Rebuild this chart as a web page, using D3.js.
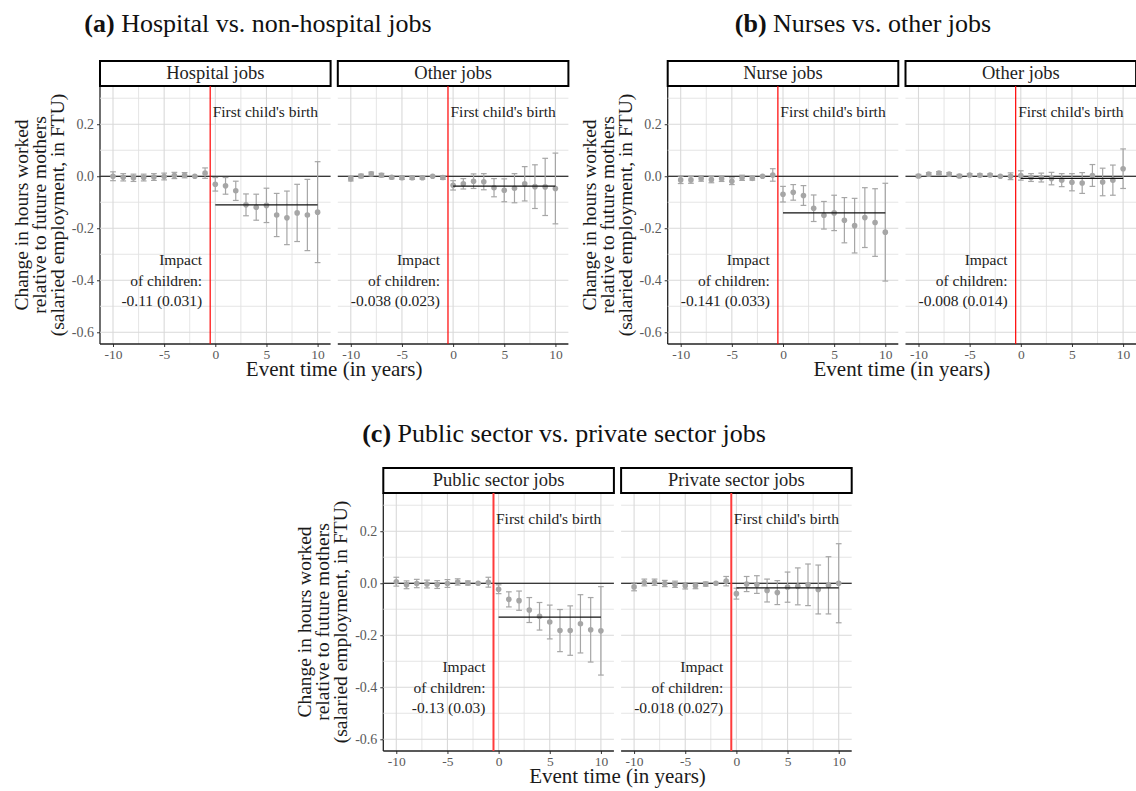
<!DOCTYPE html>
<html>
<head>
<meta charset="utf-8">
<script src="https://cdn.jsdelivr.net/npm/d3@7"></script>
<style>
  html, body { margin: 0; padding: 0; background: #fff; }
  svg { display: block; }
  svg text { font-family: "Liberation Serif", "DejaVu Serif", serif; }
</style>
</head>
<body>
<svg id="chart" width="1136" height="791"></svg>
<script>
// Event time relative to first birth (years)
const eventTime = [-10, -9, -8, -7, -6, -5, -4, -3, -2, -1, 0, 1, 2, 3, 4, 5, 6, 7, 8, 9, 10];

// Point estimates and 95% CI half-widths, event time -10 .. 10 (t = -2 is the reference year)
const hospitalEst = [0.000, -0.004, -0.006, -0.005, -0.003, -0.001, 0.003, 0.004, 0.000, 0.012, -0.031, -0.037, -0.056, -0.110, -0.119, -0.112, -0.149, -0.160, -0.141, -0.149, -0.138];
const hospitalCI  = [0.017, 0.014, 0.014, 0.013, 0.013, 0.013, 0.012, 0.010, 0.000, 0.020, 0.026, 0.032, 0.037, 0.042, 0.050, 0.066, 0.083, 0.103, 0.110, 0.137, 0.194];

const nonHospitalEst = [-0.010, 0.001, 0.009, 0.004, -0.004, -0.006, -0.006, -0.006, 0.000, -0.005, -0.035, -0.029, -0.019, -0.021, -0.044, -0.054, -0.046, -0.029, -0.040, -0.041, -0.047];
const nonHospitalCI  = [0.008, 0.007, 0.007, 0.007, 0.006, 0.006, 0.006, 0.005, 0.000, 0.007, 0.018, 0.020, 0.028, 0.031, 0.035, 0.044, 0.056, 0.066, 0.084, 0.110, 0.136];

const nurseEst = [-0.014, -0.014, -0.009, -0.013, -0.010, -0.019, -0.006, -0.008, 0.000, 0.005, -0.069, -0.062, -0.074, -0.123, -0.150, -0.141, -0.169, -0.190, -0.159, -0.178, -0.215];
const nurseCI  = [0.014, 0.013, 0.010, 0.012, 0.010, 0.013, 0.010, 0.007, 0.000, 0.024, 0.030, 0.030, 0.038, 0.051, 0.053, 0.068, 0.087, 0.105, 0.115, 0.130, 0.188];

const nonNurseEst = [0.001, 0.008, 0.012, 0.008, 0.001, 0.005, 0.004, 0.005, 0.000, 0.000, 0.003, -0.005, -0.005, -0.009, -0.015, -0.023, -0.026, 0.003, -0.022, -0.015, 0.029];
const nonNurseCI  = [0.006, 0.006, 0.006, 0.006, 0.006, 0.005, 0.005, 0.004, 0.000, 0.013, 0.018, 0.015, 0.017, 0.024, 0.025, 0.033, 0.040, 0.042, 0.053, 0.058, 0.076];

const publicEst = [0.006, -0.006, -0.001, -0.003, -0.005, -0.001, 0.005, 0.001, 0.000, 0.004, -0.023, -0.062, -0.067, -0.103, -0.127, -0.149, -0.182, -0.182, -0.156, -0.179, -0.183];
const publicCI  = [0.017, 0.015, 0.016, 0.015, 0.015, 0.015, 0.012, 0.008, 0.000, 0.019, 0.017, 0.029, 0.037, 0.048, 0.053, 0.065, 0.081, 0.095, 0.112, 0.124, 0.170];

const privateEst = [-0.014, 0.003, 0.004, -0.001, -0.004, -0.010, -0.010, -0.003, 0.000, 0.008, -0.040, -0.003, -0.005, -0.028, -0.036, -0.015, -0.012, -0.006, -0.024, -0.008, 0.000];
const privateCI  = [0.015, 0.013, 0.012, 0.012, 0.012, 0.012, 0.011, 0.008, 0.000, 0.018, 0.021, 0.029, 0.034, 0.044, 0.046, 0.058, 0.071, 0.080, 0.094, 0.110, 0.152];

// Average post-birth impact and its standard error, per facet
const impactValue = { hospital: -0.11, nonHospital: -0.038, nurse: -0.141, nonNurse: -0.008, public: -0.13, private: -0.018 };
const impactSE    = { hospital: "0.031", nonHospital: "0.023", nurse: "0.033", nonNurse: "0.014", public: "0.03", private: "0.027" };

// Facet and figure titles
const subfigureTitles = [
  { tag: "(a)", text: " Hospital vs. non-hospital jobs" },
  { tag: "(b)", text: " Nurses vs. other jobs" },
  { tag: "(c)", text: " Public sector vs. private sector jobs" }
];
const facetLabels = [
  ["Hospital jobs", "Other jobs"],
  ["Nurse jobs", "Other jobs"],
  ["Public sector jobs", "Private sector jobs"]
];
const facetKeys = [
  ["hospital", "nonHospital"],
  ["nurse", "nonNurse"],
  ["public", "private"]
];
const seriesEst = { hospital: hospitalEst, nonHospital: nonHospitalEst, nurse: nurseEst, nonNurse: nonNurseEst, public: publicEst, private: privateEst };
const seriesCI  = { hospital: hospitalCI, nonHospital: nonHospitalCI, nurse: nurseCI, nonNurse: nonNurseCI, public: publicCI, private: privateCI };

const xTicks = [-10, -5, 0, 5, 10];
const xMinor = [-7.5, -2.5, 2.5, 7.5];
const yTicks = [0.2, 0.0, -0.2, -0.4, -0.6];
const yMinor = [0.3, 0.1, -0.1, -0.3, -0.5];
const yTitleLines = ["Change in hours worked", "relative to future mothers", "(salaried employment, in FTU)"];
const xTitle = "Event time (in years)";
const birthLabel = "First child's birth";
const birthLine = -0.5;

// ---- layout ----
const svg = d3.select("#chart");
const PW = 230.6, PH = 258, GAP = 7.2, STRIP = 25;
const figures = [
  { ox: 100, oy: 86, titleX: 258, titleY: 32 },
  { ox: 667.7, oy: 86, titleX: 863, titleY: 32 },
  { ox: 383.3, oy: 493, titleX: 564, titleY: 442 }
];

const x = d3.scaleLinear().domain([-11.27, 11.27]).range([0, PW]);
const y = d3.scaleLinear().domain([-0.645, 0.347]).range([PH, 0]);

const GREY = "#a6a6a6";
const TICK_GREY = "#5a5a5a";
// plain hyphen-minus for negative tick labels
const fmtY = d => d3.format(".1f")(d).replace("\u2212", "-");
const fmtX = d => String(d);

figures.forEach((f, fi) => {
  const fig = svg.append("g").attr("transform", `translate(${f.ox},${f.oy})`);

  // subfigure caption
  const t = svg.append("text")
    .attr("x", f.titleX).attr("y", f.titleY).attr("text-anchor", "middle")
    .attr("font-size", 26).attr("fill", "#111");
  t.append("tspan").attr("font-weight", "bold").text(subfigureTitles[fi].tag);
  t.append("tspan").text(subfigureTitles[fi].text);

  // y axis title (three lines)
  yTitleLines.forEach((line, li) => {
    fig.append("text")
      .attr("transform", `translate(${-79 + li * 18},${PH / 2}) rotate(-90)`)
      .attr("text-anchor", "middle").attr("dy", "0.35em")
      .attr("font-size", 19.5).attr("fill", "#1a1a1a")
      .text(line);
  });

  // y axis (left facet only)
  const yAxis = d3.axisLeft(y).tickValues(yTicks).tickFormat(fmtY).tickSize(3).tickPadding(3);
  const ya = fig.append("g").call(yAxis).attr("font-family", null).attr("font-size", null);
  ya.select(".domain").remove();
  ya.selectAll(".tick line").attr("stroke", "#333");
  ya.selectAll(".tick text").attr("font-size", 14).attr("fill", TICK_GREY);
  fig.append("line").attr("x1", 0).attr("x2", 0).attr("y1", 0).attr("y2", PH)
    .attr("stroke", "#222").attr("stroke-width", 1.3);

  // x axis title
  fig.append("text")
    .attr("x", (2 * PW + GAP) / 2).attr("y", PH + 32)
    .attr("text-anchor", "middle").attr("font-size", 21).attr("fill", "#1a1a1a")
    .text(xTitle);

  facetKeys[fi].forEach((key, pi) => {
    const p = fig.append("g").attr("transform", `translate(${pi * (PW + GAP)},0)`);

    // grid
    const grid = p.append("g");
    grid.selectAll(".gxm").data(xMinor).join("line")
      .attr("x1", d => x(d)).attr("x2", d => x(d)).attr("y1", 0).attr("y2", PH)
      .attr("stroke", "#e2e2e2").attr("stroke-width", 0.9);
    grid.selectAll(".gym").data(yMinor).join("line")
      .attr("y1", d => y(d)).attr("y2", d => y(d)).attr("x1", 0).attr("x2", PW)
      .attr("stroke", "#e2e2e2").attr("stroke-width", 0.9);
    grid.selectAll(".gx").data(xTicks).join("line")
      .attr("x1", d => x(d)).attr("x2", d => x(d)).attr("y1", 0).attr("y2", PH)
      .attr("stroke", "#d9d9d9").attr("stroke-width", 1.1);
    grid.selectAll(".gy").data(yTicks).join("line")
      .attr("y1", d => y(d)).attr("y2", d => y(d)).attr("x1", 0).attr("x2", PW)
      .attr("stroke", "#d9d9d9").attr("stroke-width", 1.1);

    // strip
    p.append("rect").attr("x", 0).attr("y", -STRIP).attr("width", PW).attr("height", STRIP)
      .attr("fill", "#fff").attr("stroke", "#000").attr("stroke-width", 2);
    p.append("text").attr("x", PW / 2).attr("y", -7)
      .attr("text-anchor", "middle").attr("font-size", 18.5).attr("fill", "#222")
      .text(facetLabels[fi][pi]);

    // x axis
    const xAxis = d3.axisBottom(x).tickValues(xTicks).tickFormat(fmtX).tickSize(3).tickPadding(2);
    const xa = p.append("g").attr("transform", `translate(0,${PH})`).call(xAxis)
      .attr("font-family", null).attr("font-size", null);
    xa.select(".domain").remove();
    xa.selectAll(".tick line").attr("stroke", "#333");
    xa.selectAll(".tick text").attr("font-size", 13.5).attr("fill", TICK_GREY);
    p.append("line").attr("x1", 0).attr("x2", PW).attr("y1", PH).attr("y2", PH)
      .attr("stroke", "#222").attr("stroke-width", 1.3);

    // zero reference line
    p.append("line").attr("x1", 0).attr("x2", PW).attr("y1", y(0)).attr("y2", y(0))
      .attr("stroke", "#000").attr("stroke-width", 1.1);

    // birth marker
    p.append("line").attr("x1", x(birthLine)).attr("x2", x(birthLine)).attr("y1", 0).attr("y2", PH)
      .attr("stroke", fi === 2 ? "#ff3b3b" : "#ff0000").attr("stroke-width", fi === 2 ? 2 : 1.2);
    p.append("text").attr("x", x(birthLine) + 2.5).attr("y", y(0.25)).attr("dy", "0.35em")
      .attr("font-size", 15.5).attr("fill", "#222").text(birthLabel);

    // estimates
    const data = eventTime.map((t, i) => ({ t, est: seriesEst[key][i], ci: seriesCI[key][i] }));
    const bars = p.append("g").attr("stroke", GREY).attr("stroke-width", 1.2).attr("fill", "none");
    const withCI = data.filter(d => d.ci > 0);
    bars.selectAll(".v").data(withCI).join("line")
      .attr("x1", d => x(d.t)).attr("x2", d => x(d.t))
      .attr("y1", d => y(d.est - d.ci)).attr("y2", d => y(d.est + d.ci));
    bars.selectAll(".cap-hi").data(withCI).join("line")
      .attr("x1", d => x(d.t - 0.28)).attr("x2", d => x(d.t + 0.28))
      .attr("y1", d => y(d.est + d.ci)).attr("y2", d => y(d.est + d.ci));
    bars.selectAll(".cap-lo").data(withCI).join("line")
      .attr("x1", d => x(d.t - 0.28)).attr("x2", d => x(d.t + 0.28))
      .attr("y1", d => y(d.est - d.ci)).attr("y2", d => y(d.est - d.ci));
    p.append("g").selectAll("circle").data(data).join("circle")
      .attr("cx", d => x(d.t)).attr("cy", d => y(d.est)).attr("r", 2.8)
      .attr("fill", GREY);

    // average post-birth impact
    p.append("line").attr("x1", x(0)).attr("x2", x(10))
      .attr("y1", y(impactValue[key])).attr("y2", y(impactValue[key]))
      .attr("stroke", "#111").attr("stroke-width", 1.3);
    const lines = ["Impact", "of children:", `${impactValue[key]} (${impactSE[key]})`];
    lines.forEach((l, li) => {
      p.append("text").attr("x", x(birthLine) - 8).attr("y", y(-0.4) + (li - 1) * 20.3)
        .attr("dy", "0.35em").attr("text-anchor", "end")
        .attr("font-size", 15.5).attr("fill", "#222").text(l);
    });
  });
});
</script>
</body>
</html>
